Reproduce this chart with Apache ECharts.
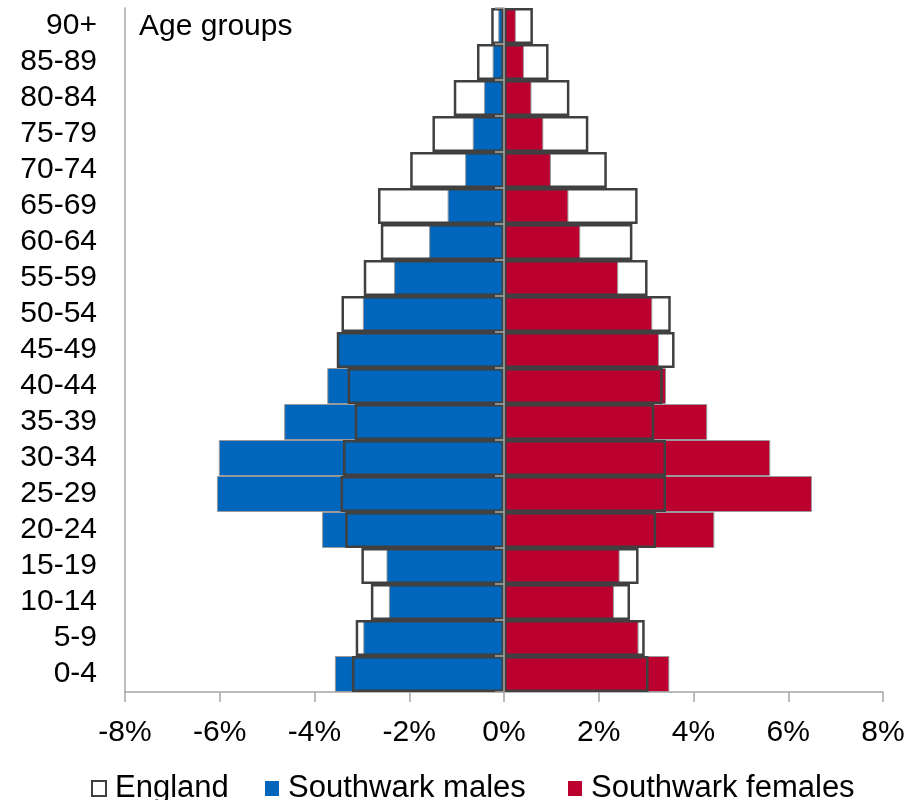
<!DOCTYPE html>
<html>
<head>
<meta charset="utf-8">
<script src="https://cdn.jsdelivr.net/npm/echarts@6/dist/echarts.min.js"></script>
<style>
  html, body { margin: 0; padding: 0; background: #fff; }
  #chart { width: 919px; height: 800px; }
</style>
</head>
<body>
<div id="chart"></div>
<script>
// Age bands, youngest first (drawn bottom to top)
const ageGroups = ['0-4', '5-9', '10-14', '15-19', '20-24', '25-29', '30-34', '35-39', '40-44',
  '45-49', '50-54', '55-59', '60-64', '65-69', '70-74', '75-79', '80-84', '85-89', '90+'];

// Share of total population (%) in each band
const southwarkMales = [3.57, 2.97, 2.43, 2.48, 3.84, 6.06, 6.02, 4.64, 3.73,
  3.51, 2.98, 2.32, 1.58, 1.19, 0.82, 0.66, 0.42, 0.24, 0.12];
const southwarkFemales = [3.49, 2.84, 2.32, 2.44, 4.44, 6.50, 5.62, 4.29, 3.42,
  3.27, 3.13, 2.41, 1.61, 1.36, 0.99, 0.83, 0.58, 0.42, 0.25];
const englandMales = [3.21, 3.13, 2.81, 3.01, 3.35, 3.45, 3.40, 3.15, 3.30,
  3.53, 3.43, 2.96, 2.60, 2.66, 1.98, 1.51, 1.06, 0.57, 0.27];
const englandFemales = [3.05, 2.97, 2.66, 2.84, 3.21, 3.42, 3.42, 3.17, 3.35,
  3.60, 3.52, 3.03, 2.71, 2.82, 2.17, 1.78, 1.38, 0.94, 0.61];

const xTicks = { min: -8, max: 8, step: 2 };

const FONT = '"Liberation Sans", Arial, sans-serif';
const AXIS_GREY = '#a6a6a6';
const OUTLINE = '#404040';
const BLUE = '#0066bb';
const RED = '#bb0030';

const chart = echarts.init(document.getElementById('chart'), null, { renderer: 'canvas' });

const neg = arr => arr.map(v => -v);

const solidStyle = c => ({ color: c, borderColor: '#9a9a9a', borderWidth: 1 });
const outlineStyle = { color: 'rgba(255,255,255,0)', borderColor: OUTLINE, borderWidth: 2.5 };

// one legend block per entry so each key sits at its own spot
const legendBlock = (left, entry) => ({
  left: left, top: 768,
  itemWidth: 14, itemHeight: 15,
  icon: 'rect',
  textStyle: { fontFamily: FONT, fontSize: 31, color: '#000', padding: [0, 0, 0, 4] },
  data: [entry]
});

chart.setOption({
  animation: false,
  backgroundColor: '#fff',
  textStyle: { fontFamily: FONT },
  title: {
    text: 'Age groups',
    left: 139, top: 12, padding: 0,
    textStyle: { fontFamily: FONT, fontSize: 30, fontWeight: 'normal', color: '#000' }
  },
  grid: { left: 125, right: 36, top: 8, bottom: 108, containLabel: false },
  xAxis: {
    type: 'value',
    min: xTicks.min, max: xTicks.max, interval: xTicks.step,
    axisLine: { show: true, onZero: false, lineStyle: { color: AXIS_GREY, width: 1.5 } },
    axisTick: { show: true, length: 10, lineStyle: { color: AXIS_GREY, width: 1.5 } },
    splitLine: { show: false },
    axisLabel: {
      formatter: v => v + '%',
      fontFamily: FONT, fontSize: 30, color: '#000', margin: 26
    }
  },
  yAxis: [
    {
      type: 'category',
      data: ageGroups,
      position: 'left',
      axisLine: { show: true, onZero: false, lineStyle: { color: AXIS_GREY, width: 1.5 } },
      axisTick: { show: false },
      axisLabel: {
        interval: 0, fontFamily: FONT, fontSize: 30, color: '#000', margin: 28,
        padding: [4, 0, 0, 0]
      }
    },
    {
      type: 'category',
      data: ageGroups,
      position: 'left',
      z: 10,
      axisLine: { show: true, onZero: true, lineStyle: { color: AXIS_GREY, width: 1.5 } },
      axisTick: { show: true, interval: 0, length: 9, lineStyle: { color: AXIS_GREY, width: 1.5 } },
      axisLabel: { show: false }
    }
  ],
  legend: [
    legendBlock(86, { name: 'England', itemStyle: { color: '#fff', borderColor: OUTLINE, borderWidth: 2 } }),
    legendBlock(260, { name: 'Southwark males', itemStyle: { color: BLUE, borderWidth: 0 } }),
    legendBlock(563, { name: 'Southwark females', itemStyle: { color: RED, borderWidth: 0 } })
  ],
  series: [
    {
      name: 'Southwark males', type: 'bar', data: neg(southwarkMales),
      barCategoryGap: '0%', barGap: '-100%', itemStyle: solidStyle(BLUE), z: 2
    },
    {
      name: 'Southwark females', type: 'bar', data: southwarkFemales,
      barCategoryGap: '0%', barGap: '-100%', itemStyle: solidStyle(RED), z: 2
    },
    {
      name: 'England', type: 'bar', data: neg(englandMales),
      barCategoryGap: '0%', barGap: '-100%', itemStyle: outlineStyle, z: 3
    },
    {
      name: 'England', type: 'bar', data: englandFemales,
      barCategoryGap: '0%', barGap: '-100%', itemStyle: outlineStyle, z: 3
    }
  ]
});
</script>
</body>
</html>
